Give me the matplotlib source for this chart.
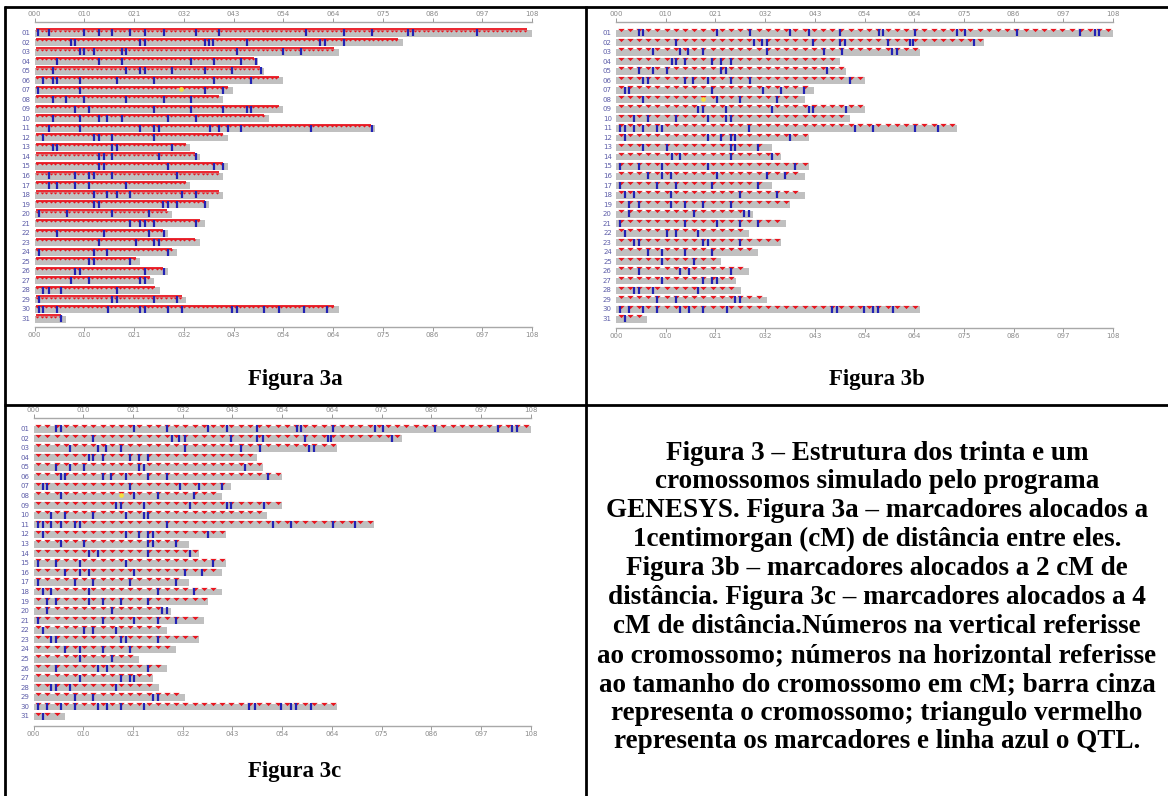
import numpy as np
import matplotlib
matplotlib.use("Agg")
import matplotlib.pyplot as plt
from matplotlib.path import Path

W, H, DPI = 1168, 796, 100

# ---------------- data ----------------
CHROMOSOMES = [f"{i:02d}" for i in range(1, 32)]
LENGTHS_CM = [108.0, 80.0, 66.0, 48.6, 49.9, 54.0, 43.0, 41.0, 54.0, 50.8,
              74.0, 41.9, 33.8, 35.9, 41.9, 41.0, 33.8, 41.0, 37.9, 29.8,
              37.0, 28.9, 35.9, 30.9, 22.9, 28.9, 26.0, 27.2, 32.9, 66.0, 6.8]
TICK_POS = [0, 10.8, 21.6, 32.4, 43.2, 54.0, 64.8, 75.6, 86.4, 97.2, 108.0]
TICK_LABELS = ["000", "010", "021", "032", "043", "054", "064", "075", "086", "097", "108"]

# marker spacing (cM) as seen in each panel
MARKER_SPACING = {"a": 1.0, "b": 2.0, "c": 2.0}

QTL_A = [
    [0.7, 3.0, 10.8, 13.9, 16.8, 20.8, 23.9, 28.0, 35.1, 40.1, 59.0, 67.1, 73.2, 81.1, 82.2, 96.1],
    [7.9, 8.7, 22.9, 23.9, 36.9, 37.8, 38.8, 46.0, 62.0, 63.0, 67.1],
    [9.9, 10.8, 12.8, 18.9, 19.9, 44.0, 54.0, 57.9],
    [4.8, 13.9, 18.9, 34.0, 38.9, 44.9, 48.0],
    [3.9, 19.9, 22.9, 23.9, 29.9, 36.9, 42.9, 49.1],
    [1.9, 3.9, 4.8, 9.9, 17.9, 25.9, 38.9, 47.0],
    [0.7, 9.9, 36.9, 40.9],
    [3.9, 6.8, 10.8, 19.9, 28.0, 34.0],
    [8.8, 11.9, 25.9, 34.0, 40.9, 46.0, 46.9],
    [3.9, 9.9, 13.9, 15.8, 18.9, 29.0, 35.1],
    [3.0, 9.9, 22.9, 25.9, 26.9, 38.0, 40.0, 42.0, 44.9, 60.1, 73.2],
    [1.9, 12.8, 13.9, 16.8, 25.9],
    [3.9, 4.8, 16.8, 17.9, 29.9],
    [13.9, 15.0, 16.8, 26.9, 35.1],
    [13.9, 15.0, 29.0, 38.9, 40.9],
    [3.0, 8.8, 11.9, 12.8, 16.8, 30.9],
    [3.0, 4.8, 8.8, 11.9, 19.9],
    [12.8, 15.8, 17.9, 20.8, 32.0, 35.1],
    [12.8, 13.9, 27.9, 29.0, 30.9, 36.9],
    [0.9, 7.0, 16.8, 24.9],
    [20.8, 22.9, 23.9, 25.9, 35.1],
    [4.8, 15.0, 24.9, 28.0],
    [13.9, 21.9, 25.9, 26.9],
    [0.9, 12.8, 15.8, 29.0],
    [11.9, 12.8, 20.8],
    [8.8, 9.9, 23.9, 28.0],
    [7.9, 11.9, 22.9, 23.9],
    [1.9, 3.0, 5.8, 17.9],
    [0.9, 16.8, 17.9, 25.9, 30.9],
    [0.9, 1.9, 4.8, 16.0, 22.9, 23.9, 29.0, 32.0, 42.9, 44.0, 49.8, 53.1, 58.5, 63.5],
    [5.8],
]

QTL_B = [
    [4.9, 5.9, 21.9, 29.1, 37.8, 42.0, 48.6, 57.2, 58.1, 65.0, 74.1, 75.9, 87.1, 100.9, 104.0, 105.0],
    [13.0, 30.0, 31.7, 32.8, 42.9, 48.6, 49.8, 59.0, 63.9, 64.6, 77.9],
    [8.0, 13.9, 15.7, 19.0, 32.8, 45.1, 49.1, 59.9, 61.0],
    [12.1, 13.0, 15.0, 20.9, 22.9, 24.9],
    [4.9, 8.0, 11.0, 22.9, 23.9, 45.9],
    [5.9, 6.9, 15.0, 16.8, 20.0, 24.9, 29.1, 50.9],
    [2.0, 2.9, 20.9, 31.9, 35.9, 40.9],
    [5.9, 21.9, 27.0, 34.9],
    [17.9, 19.0, 23.9, 33.9, 42.0, 42.9, 50.0],
    [3.9, 6.9, 13.0, 20.0, 23.9, 24.9],
    [0.9, 2.0, 3.9, 5.9, 9.0, 10.0, 28.9, 52.0, 55.9, 65.0, 69.9],
    [2.0, 20.0, 22.9, 24.9, 25.9, 37.8],
    [5.9, 11.0, 24.9, 25.9, 30.9],
    [12.1, 13.9, 24.9, 33.9],
    [0.9, 4.9, 10.0, 20.0, 38.9],
    [6.9, 10.0, 12.0, 21.9, 32.8, 36.7],
    [0.9, 9.0, 13.0, 20.9, 30.9],
    [2.0, 3.9, 12.0, 27.0, 34.9],
    [2.9, 4.9, 12.0, 15.0, 19.0, 24.9],
    [2.9, 17.0, 27.8, 28.9],
    [0.9, 15.0, 21.9, 27.0, 30.9],
    [2.0, 11.0, 13.0, 17.9],
    [3.9, 4.9, 19.0, 20.0, 27.0],
    [6.9, 10.0, 15.0, 20.9],
    [10.0, 17.0],
    [4.9, 13.9, 15.9, 24.9],
    [10.0, 19.0, 20.9, 21.9],
    [3.9, 4.9, 8.0, 17.9],
    [9.0, 13.0, 25.9, 27.0],
    [0.9, 2.9, 5.9, 9.0, 13.9, 15.9, 19.0, 24.1, 46.9, 48.0, 53.8, 55.9, 56.9, 60.3],
    [2.0],
]
QTL_C = QTL_B

# yellow spot: (chromosome index, position cM)
YELLOW = {"a": (7, 31.7), "b": (8, 18.8), "c": (8, 19.0)}

CAPTION_LINES = [
    "Figura 3 \u2013 Estrutura dos trinta e um",
    "cromossomos simulado pelo programa",
    "GENESYS. Figura 3a \u2013 marcadores alocados a",
    "1centimorgan (cM) de dist\u00e2ncia entre eles.",
    "Figura 3b \u2013 marcadores alocados a 2 cM de",
    "dist\u00e2ncia. Figura 3c \u2013 marcadores alocados a 4",
    "cM de dist\u00e2ncia.N\u00fameros na vertical referisse",
    "ao cromossomo; n\u00fameros na horizontal referisse",
    "ao tamanho do cromossomo em cM; barra cinza",
    "representa o cromossomo; triangulo vermelho",
    "representa os marcadores e linha azul o QTL.",
]

GRAY = "#c0c0c0"
RED = "#e8141e"
BLUE = "#2222b4"
YELLOW_C = "#f4e040"
LABEL_BLUE = "#5c5ca8"
TICK_GRAY = "#8a8a8a"

TRI = Path([(-1, 0.5), (1, 0.5), (0, -0.5), (-1, 0.5)],
           [Path.MOVETO, Path.LINETO, Path.LINETO, Path.CLOSEPOLY])

fig = plt.figure(figsize=(W / DPI, H / DPI), dpi=DPI)
fig.patch.set_facecolor("white")


def px_rect(x0, y0, x1, y1):
    return [x0 / W, 1 - y1 / H, (x1 - x0) / W, (y1 - y0) / H]


def draw_panel(key, x0, x1, y_top, y_r1, y_r31, y_bot, qtls):
    ax = fig.add_axes(px_rect(x0, y_top, x1, y_bot))
    step = (y_r31 - y_r1) / 30.0
    ax.set_xlim(0, 108)
    ax.set_ylim(31 + (y_bot - y_r31) / step, 1 - (y_r1 - y_top) / step)
    rows = np.arange(1, 32)
    ax.barh(rows + 0.06, LENGTHS_CM, height=0.72, left=0, color=GRAY,
            zorder=1, linewidth=0)
    sp = MARKER_SPACING[key]
    for r, L in zip(rows, LENGTHS_CM):
        start = 0.5 if key == "a" else 1.0
        pos = np.arange(start, L - 0.8, sp)
        if key == "a":
            ax.plot([0.2, L - 1.0], [r - 0.33, r - 0.33], color=RED, lw=1.3,
                    zorder=2, solid_capstyle="butt")
            ax.plot(pos, np.full(len(pos), r - 0.2), ls="none", marker=TRI,
                    ms=3.0, color=RED, mew=0, zorder=2)
        else:
            ax.plot(pos, np.full(len(pos), r - 0.25), ls="none", marker=TRI,
                    ms=4.6, color=RED, mew=0, zorder=2)
    for r, q in zip(rows, qtls):
        ax.vlines(q, r - 0.33, r + 0.4, colors=BLUE, lw=1.6, zorder=3)
    yr, yx = YELLOW[key]
    ax.plot([yx], [yr - 0.05], marker="o", ms=3.4, color=YELLOW_C, mew=0, zorder=4)

    for s in ("left", "right"):
        ax.spines[s].set_visible(False)
    for s in ("top", "bottom"):
        ax.spines[s].set_color("#a8a8a8")
        ax.spines[s].set_linewidth(1.0)
    ax.set_xticks(TICK_POS)
    ax.set_xticklabels(TICK_LABELS)
    ax.tick_params(axis="x", which="both", top=True, bottom=True, labeltop=True,
                   labelbottom=True, direction="out", length=3, width=0.7,
                   color="#999999", labelsize=5, labelcolor=TICK_GRAY, pad=0.8)
    ax.set_yticks(rows)
    ax.set_yticklabels(CHROMOSOMES)
    ax.tick_params(axis="y", length=0, pad=3.0, labelsize=5, labelcolor=LABEL_BLUE)
    ax.set_facecolor("none")
    return ax


draw_panel("a", 34.7, 532.0, 22, 32.5, 318.5, 327, QTL_A)
draw_panel("b", 616.0, 1113.0, 22, 32.5, 318.5, 328, QTL_B)
draw_panel("c", 33.5, 530.8, 418, 428.5, 716.0, 726, QTL_C)

# overlay for frame lines and text
ov = fig.add_axes([0, 0, 1, 1], zorder=10)
ov.set_xlim(0, W)
ov.set_ylim(H, 0)
ov.axis("off")
ov.set_facecolor("none")
lw = 2.0
ov.plot([5, 5], [6, H], color="black", lw=lw, solid_capstyle="butt")
ov.plot([4, W], [7, 7], color="black", lw=lw, solid_capstyle="butt")
ov.plot([4, W], [404.5, 404.5], color="black", lw=lw, solid_capstyle="butt")
ov.plot([586, 586], [6, H], color="black", lw=lw, solid_capstyle="butt")

serif = dict(family="Liberation Serif", weight="bold")
ov.text(295, 380, "Figura 3a", ha="center", va="center", fontsize=16.5, **serif)
ov.text(877, 380, "Figura 3b", ha="center", va="center", fontsize=16.5, **serif)
ov.text(295, 772, "Figura 3c", ha="center", va="center", fontsize=16.5, **serif)

for i, line in enumerate(CAPTION_LINES):
    ov.text(877, 453 + 28.9 * i, line, ha="center", va="center",
            fontsize=19.5, **serif)

fig.savefig("out.png", dpi=DPI, facecolor="white")
